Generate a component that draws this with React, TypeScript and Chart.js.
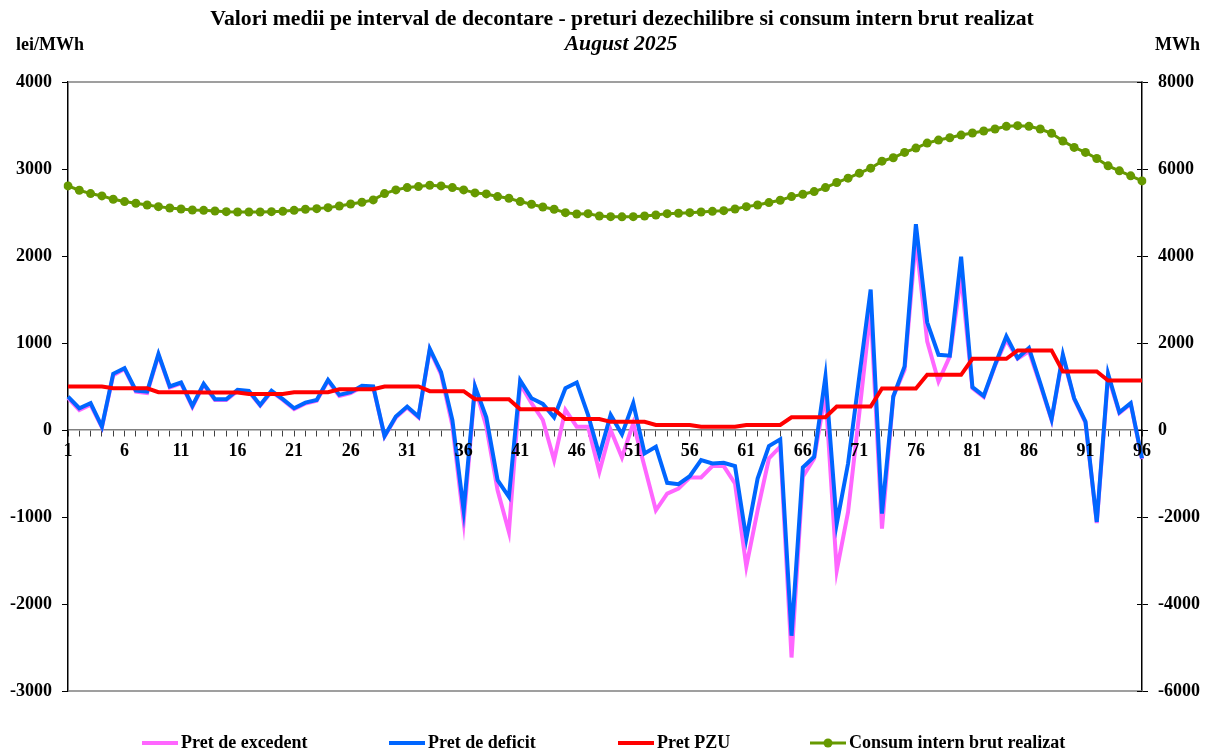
import React, { useEffect, useRef } from 'react';
import { Chart, registerables } from 'chart.js';

Chart.register(...registerables);

const FONT = "'Liberation Serif', 'Times New Roman', serif";

const TITLE = 'Valori medii pe interval de decontare - preturi dezechilibre si consum intern brut realizat';
const SUBTITLE = 'August 2025';
const LEFT_UNIT = 'lei/MWh';
const RIGHT_UNIT = 'MWh';

const categories = [
  '1', '2', '3', '4', '5', '6', '7', '8', '9', '10', '11', '12', '13', '14', '15', '16',
  '17', '18', '19', '20', '21', '22', '23', '24', '25', '26', '27', '28', '29', '30', '31', '32',
  '33', '34', '35', '36', '37', '38', '39', '40', '41', '42', '43', '44', '45', '46', '47', '48',
  '49', '50', '51', '52', '53', '54', '55', '56', '57', '58', '59', '60', '61', '62', '63', '64',
  '65', '66', '67', '68', '69', '70', '71', '72', '73', '74', '75', '76', '77', '78', '79', '80',
  '81', '82', '83', '84', '85', '86', '87', '88', '89', '90', '91', '92', '93', '94', '95', '96',
];

const pretExcedent = [
  370, 230, 290, 30, 630, 700, 440, 425, 860, 490, 535, 265, 520, 345, 345, 450,
  440, 280, 440, 345, 240, 305, 335, 565, 390, 425, 495, 490, -75, 145, 260, 145,
  920, 640, 50, -1050, 490, 40, -692, -1173, 530, 308, 115, -346, 231, 38, 38, -481,
  0, -315, 77, -423, -923, -731, -673, -546, -546, -415, -415, -615, -1569, -923, -327, -192,
  -2615, -538, -327, 423, -1615, -942, 200, 1384, -1134, 385, 692, 2192, 1019, 558, 846, 1769,
  481, 380, 740, 1038, 820, 904, 519, 115, 846, 355, 85, -1070, 615, 195, 300, -335,
];

const pretDeficit = [
  384, 250, 308, 38, 646, 711, 454, 442, 873, 500, 546, 277, 531, 354, 354, 461,
  450, 288, 450, 354, 250, 315, 346, 577, 404, 435, 507, 500, -69, 154, 269, 154,
  934, 665, 115, -923, 500, 146, -577, -769, 569, 365, 300, 146, 481, 546, 173, -288,
  173, -50, 308, -269, -192, -607, -623, -531, -346, -385, -377, -415, -1250, -558, -185, -108,
  -2365, -431, -308, 615, -1077, -385, 620, 1615, -961, 385, 731, 2365, 1238, 865, 854, 1992,
  492, 392, 750, 1077, 827, 942, 538, 123, 865, 365, 96, -1057, 646, 204, 308, -327,
];

const pretPZU = [
  500, 500, 500, 500, 480, 480, 480, 480, 435, 435, 435, 435, 430, 430, 430, 430,
  415, 415, 415, 415, 435, 435, 435, 435, 469, 469, 469, 469, 500, 500, 500, 500,
  446, 446, 446, 446, 354, 354, 354, 354, 238, 238, 238, 238, 127, 127, 127, 127,
  94, 94, 94, 94, 58, 58, 58, 58, 38, 38, 38, 38, 58, 58, 58, 58,
  146, 146, 146, 146, 269, 269, 269, 269, 477, 477, 477, 477, 634, 634, 634, 634,
  819, 819, 819, 819, 915, 915, 915, 915, 673, 673, 673, 673, 569, 569, 569, 569,
];

const consumIntern = [
  5611, 5512, 5435, 5381, 5304, 5251, 5212, 5173, 5135, 5104, 5081, 5058, 5050, 5035, 5020, 5012,
  5012, 5012, 5020, 5027, 5050, 5074, 5089, 5112, 5150, 5195, 5235, 5289, 5435, 5520, 5573, 5596,
  5627, 5611, 5573, 5520, 5451, 5427, 5366, 5327, 5251, 5189, 5127, 5074, 4997, 4966, 4974, 4920,
  4905, 4900, 4905, 4920, 4943, 4974, 4982, 4997, 5012, 5027, 5043, 5081, 5135, 5173, 5228, 5281,
  5366, 5420, 5481, 5573, 5689, 5789, 5904, 6019, 6180, 6258, 6381, 6481, 6596, 6665, 6718, 6780,
  6827, 6873, 6919, 6981, 6996, 6981, 6919, 6819, 6642, 6496, 6381, 6242, 6073, 5958, 5843, 5727,
];

const leftTicks = [-3000, -2000, -1000, 0, 1000, 2000, 3000, 4000];
const rightTicks = [-6000, -4000, -2000, 0, 2000, 4000, 6000, 8000];

const seriesNames = ['Pret de excedent', 'Pret de deficit', 'Pret PZU', 'Consum intern brut realizat'];
const seriesColors = ['#FF66FF', '#0066FF', '#FF0000', '#669900'];

const legendX = [142, 389, 618, 810];

const decorPlugin = {
  id: 'decor',
  beforeDatasetsDraw(chart: any) {
    const { ctx, chartArea } = chart;
    ctx.save();
    ctx.strokeStyle = '#808080';
    ctx.lineWidth = 1.5;
    ctx.beginPath();
    ctx.moveTo(chartArea.left, chartArea.top);
    ctx.lineTo(chartArea.right, chartArea.top);
    ctx.moveTo(chartArea.left, chartArea.bottom);
    ctx.lineTo(chartArea.right, chartArea.bottom);
    ctx.stroke();
    // inner half of right axis ticks (they cross the axis)
    const y1 = chart.scales.y1;
    ctx.strokeStyle = '#000';
    ctx.lineWidth = 1;
    ctx.beginPath();
    rightTicks.forEach((v) => {
      const py = Math.round(y1.getPixelForValue(v)) + 0.5;
      ctx.moveTo(chartArea.right - 5, py);
      ctx.lineTo(chartArea.right, py);
    });
    ctx.stroke();
    ctx.restore();
  },
  afterDatasetsDraw(chart: any) {
    // category labels drawn above the lines, like the original
    const { ctx } = chart;
    const xs = chart.scales.x;
    const zero = chart.scales.y.getPixelForValue(0);
    ctx.save();
    ctx.fillStyle = '#000';
    ctx.font = `bold 18px ${FONT}`;
    ctx.textAlign = 'center';
    ctx.textBaseline = 'middle';
    categories.forEach((c, i) => {
      if (i % 5 !== 0) return;
      ctx.fillText(c, xs.getPixelForValue(i), zero + 21);
    });
    ctx.restore();
  },
  afterDraw(chart: any) {
    const { ctx } = chart;
    ctx.save();
    ctx.fillStyle = '#000';
    ctx.textBaseline = 'middle';
    ctx.textAlign = 'center';
    ctx.font = `bold 21.7px ${FONT}`;
    ctx.fillText(TITLE, 622, 19);
    ctx.font = `italic bold 21.7px ${FONT}`;
    ctx.fillText(SUBTITLE, 621, 44);
    ctx.textAlign = 'left';
    ctx.font = `bold 18px ${FONT}`;
    ctx.fillText(LEFT_UNIT, 16, 45);
    ctx.fillText(RIGHT_UNIT, 1155, 45);

    // legend
    const ly = 743;
    seriesNames.forEach((name, i) => {
      const x = legendX[i];
      ctx.strokeStyle = seriesColors[i];
      ctx.lineWidth = i === 3 ? 3 : 4;
      ctx.beginPath();
      ctx.moveTo(x, ly);
      ctx.lineTo(x + 36, ly);
      ctx.stroke();
      if (i === 3) {
        ctx.fillStyle = seriesColors[i];
        ctx.beginPath();
        ctx.arc(x + 18, ly, 4.5, 0, Math.PI * 2);
        ctx.fill();
      }
      ctx.fillStyle = '#000';
      ctx.font = `bold 18px ${FONT}`;
      ctx.textAlign = 'left';
      ctx.fillText(name, x + 39, ly);
    });
    ctx.restore();
  },
};

export default function App() {
  const canvasRef = useRef<HTMLCanvasElement | null>(null);

  useEffect(() => {
    if (!canvasRef.current) return;
    const tickFont = { family: FONT, size: 18, weight: 'bold' as const };
    const chart = new Chart(canvasRef.current, {
      type: 'line',
      data: {
        labels: categories,
        datasets: [
          {
            label: seriesNames[0],
            data: pretExcedent,
            borderColor: seriesColors[0],
            backgroundColor: seriesColors[0],
            borderWidth: 4,
            pointRadius: 0,
            tension: 0,
            yAxisID: 'y',
            order: 4,
          },
          {
            label: seriesNames[1],
            data: pretDeficit,
            borderColor: seriesColors[1],
            backgroundColor: seriesColors[1],
            borderWidth: 4,
            pointRadius: 0,
            tension: 0,
            yAxisID: 'y',
            order: 3,
          },
          {
            label: seriesNames[2],
            data: pretPZU,
            borderColor: seriesColors[2],
            backgroundColor: seriesColors[2],
            borderWidth: 4,
            pointRadius: 0,
            tension: 0,
            yAxisID: 'y',
            order: 2,
          },
          {
            label: seriesNames[3],
            data: consumIntern,
            borderColor: seriesColors[3],
            backgroundColor: seriesColors[3],
            borderWidth: 3,
            pointRadius: 4.5,
            pointBorderWidth: 0,
            pointBackgroundColor: seriesColors[3],
            tension: 0,
            yAxisID: 'y1',
            order: 1,
          },
        ],
      },
      options: {
        animation: false,
        responsive: false,
        events: [],
        layout: { padding: { top: 82, bottom: 65, left: 0, right: 0 } },
        plugins: {
          legend: { display: false },
          title: { display: false },
          tooltip: { enabled: false },
        },
        scales: {
          x: {
            type: 'category',
            position: { y: 0 } as any,
            offset: false,
            grid: { drawOnChartArea: false, drawTicks: true, tickLength: 6, color: '#404040', lineWidth: 1 },
            border: { display: true, color: '#808080', width: 1.5 },
            ticks: {
              autoSkip: false,
              maxRotation: 0,
              minRotation: 0,
              padding: 4,
              color: 'rgba(0,0,0,0)',
              font: tickFont,
              callback: (_v: any, i: number) => (i % 5 === 0 ? categories[i] : ''),
            },
          },
          y: {
            type: 'linear',
            position: 'left',
            min: leftTicks[0],
            max: leftTicks[leftTicks.length - 1],
            afterBuildTicks: (scale: any) => {
              scale.ticks = leftTicks.map((v) => ({ value: v }));
            },
            afterFit: (scale: any) => {
              scale.width = 68;
            },
            grid: { drawOnChartArea: false, drawTicks: true, tickLength: 6, color: '#000', lineWidth: 1 },
            border: { display: true, color: '#000', width: 1.5 },
            ticks: { color: '#000', font: tickFont, padding: 10, callback: (v: any) => String(v) },
          },
          y1: {
            type: 'linear',
            position: 'right',
            min: rightTicks[0],
            max: rightTicks[rightTicks.length - 1],
            afterBuildTicks: (scale: any) => {
              scale.ticks = rightTicks.map((v) => ({ value: v }));
            },
            afterFit: (scale: any) => {
              scale.width = 69;
            },
            grid: { drawOnChartArea: false, drawTicks: true, tickLength: 6, color: '#000', lineWidth: 1 },
            border: { display: true, color: '#000', width: 1.5 },
            ticks: { color: '#000', font: tickFont, padding: 10, callback: (v: any) => String(v) },
          },
        },
      },
      plugins: [decorPlugin],
    });
    return () => chart.destroy();
  }, []);

  return (
    <div style={{ position: 'fixed', left: 0, top: 0, width: 1211, height: 756, background: '#fff' }}>
      <canvas ref={canvasRef} width={1211} height={756} style={{ display: 'block' }} />
    </div>
  );
}
